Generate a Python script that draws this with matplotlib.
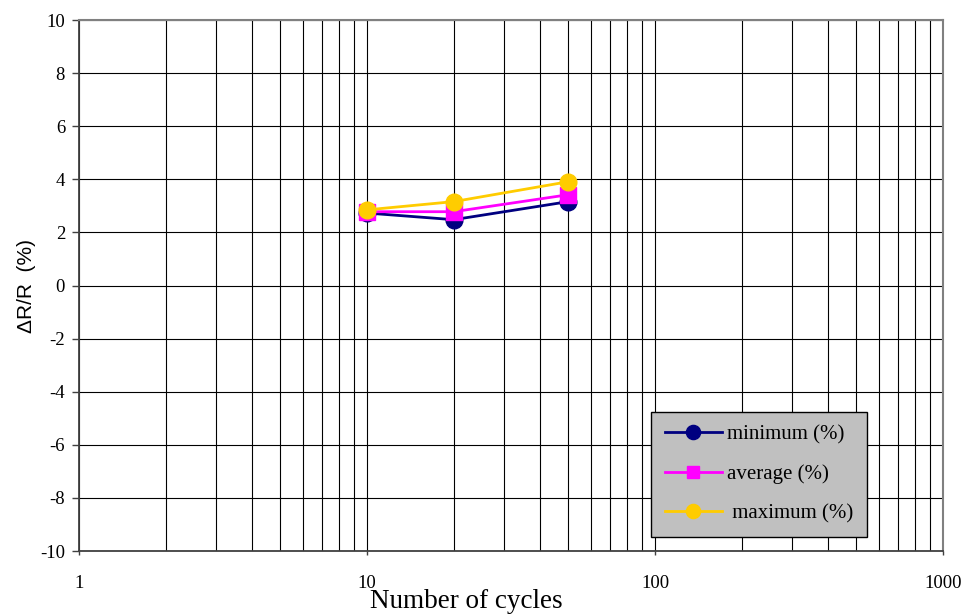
"""Resistance change vs number of cycles."""

import matplotlib
matplotlib.use("Agg")
import matplotlib.pyplot as plt
from matplotlib.ticker import FixedLocator, NullFormatter

cycles = [10, 20, 50]
minimum = [2.73, 2.48, 3.16]
average = [2.78, 2.78, 3.42]
maximum = [2.85, 3.16, 3.91]

labels = ["minimum (%)", "average (%)", " maximum (%)"]
y_ticks = list(range(-10, 11, 2))
x_ticks = [1, 10, 100, 1000]

serif = "Liberation Serif"
sans = "Liberation Sans"

fig = plt.figure(figsize=(9.67, 6.16), dpi=100)
ax = fig.add_axes([0.0817, 0.1055, 0.8935, 0.862])

ax.plot(cycles, minimum, color="#000080", lw=2, marker="o", ms=12, label=labels[0], zorder=3)
ax.plot(cycles, average, color="#FF00FF", lw=2, marker="s", ms=11, label=labels[1], zorder=4)
ax.plot(cycles, maximum, color="#FFCC00", lw=2, marker="o", ms=12, label=labels[2], zorder=5)

ax.set_xscale("log")
ax.set_xlim(1, 1000)
ax.set_ylim(-10, 10)
ax.set_yticks(y_ticks)
ax.set_yticklabels([str(t) for t in y_ticks], fontfamily=serif, fontsize=13.5)
ax.xaxis.set_major_locator(FixedLocator(x_ticks))
ax.set_xticklabels([str(t) for t in x_ticks], fontfamily=serif, fontsize=13.5)
minor = [m * 10 ** k for k in range(3) for m in range(2, 10)]
ax.xaxis.set_minor_locator(FixedLocator(minor))
ax.xaxis.set_minor_formatter(NullFormatter())
ax.tick_params(axis="x", which="major", length=3, width=1, pad=14, direction="out", color="#404040")
ax.tick_params(axis="x", which="minor", length=0)
ax.tick_params(axis="y", length=5, width=1, pad=5, direction="out", color="#404040")

ax.grid(which="major", color="black", lw=0.8)
ax.grid(which="minor", axis="x", color="black", lw=0.8)
for side in ["top", "right"]:
    ax.spines[side].set_linewidth(1.5)
    ax.spines[side].set_color("#808080")
for side in ["left", "bottom"]:
    ax.spines[side].set_linewidth(1.3)
    ax.spines[side].set_color("#404040")

ax.set_ylabel("ΔR/R  (%)", fontfamily=sans, fontsize=15, labelpad=3)
fig.text(0.482, 0.003, "Number of cycles", fontfamily=serif, fontsize=19.5, ha="center", va="bottom")

leg = ax.legend(loc="lower left", bbox_to_anchor=(0.662, 0.026), borderaxespad=0,
                fancybox=False, framealpha=1, facecolor="#C0C0C0", edgecolor="black",
                prop={"family": serif, "size": 15}, handlelength=2.75, handletextpad=0.25,
                labelspacing=0.95, borderpad=0.65, markerscale=0.85)
leg.get_frame().set_linewidth(1.0)
leg.set_zorder(10)

fig.savefig("out.png", dpi=100)
plt.close(fig)
